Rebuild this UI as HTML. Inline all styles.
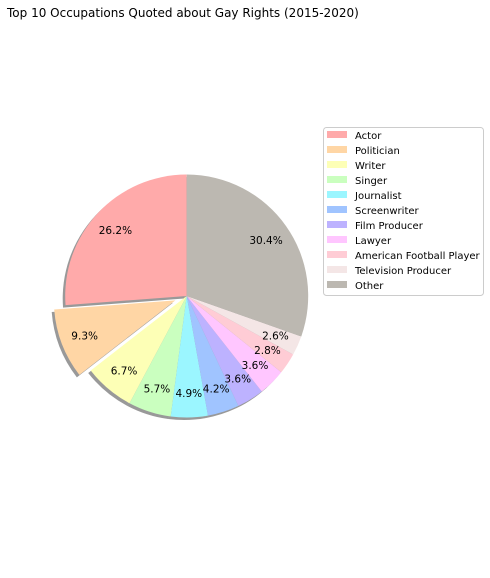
<!DOCTYPE html>
<html><head><meta charset="utf-8">
<style>
body{margin:0;background:#fff;width:490px;height:574px;overflow:hidden;font-family:"DejaVu Sans","Liberation Sans",sans-serif}
</style></head>
<body>
<svg id="chart" width="490" height="574" xmlns="http://www.w3.org/2000/svg">
<text x="7" y="17" font-size="12" fill="#000">Top 10 Occupations Quoted about Gay Rights (2015-2020)</text>
<g id="shadows"></g><g id="slices"></g><g id="labels"></g>
<g id="legend">
<rect x="323.5" y="127.5" width="160" height="168" rx="3" fill="#fff" stroke="#ccc"/>
</g>
</svg>
<script>
const categories=["Actor","Politician","Writer","Singer","Journalist","Screenwriter","Film Producer","Lawyer","American Football Player","Television Producer","Other"];
const values=[26.2,9.3,6.7,5.7,4.9,4.2,3.6,3.6,2.8,2.6,30.4];
const explode=[0,0.1,0,0,0,0,0,0,0,0,0];
const colors=["#ffaaaa","#ffd6a5","#fdffb6","#caffbf","#9bf6ff","#a0c4ff","#bdb2ff","#ffc6ff","#ffccd5","#f4e6e6","#bcb8b1"];
const NS="http://www.w3.org/2000/svg";
const cx=186.7,cy=296,r=121.5;
const total=values.reduce((a,b)=>a+b,0);
function pt(a,rad,ox,oy){return [ox+rad*Math.cos(a),oy-rad*Math.sin(a)];}
let ang=Math.PI/2;
const sh=document.getElementById('shadows'),sl=document.getElementById('slices'),lb=document.getElementById('labels');
values.forEach((v,i)=>{
  const sweep=v/total*2*Math.PI,a0=ang,a1=ang+sweep,mid=ang+sweep/2;ang=a1;
  const ox=cx+explode[i]*r*Math.cos(mid),oy=cy-explode[i]*r*Math.sin(mid);
  const p0=pt(a0,r,ox,oy),p1=pt(a1,r,ox,oy);
  const large=sweep>Math.PI?1:0;
  const d=`M${ox},${oy}L${p0[0]},${p0[1]}A${r},${r} 0 ${large} 0 ${p1[0]},${p1[1]}Z`;
  const s=document.createElementNS(NS,'path');
  s.setAttribute('d',d);s.setAttribute('fill','#000');s.setAttribute('fill-opacity','0.4');
  s.setAttribute('transform','translate(-2.5,2.5)');
  
  
  sh.appendChild(s);
  const p=document.createElementNS(NS,'path');
  p.setAttribute('d',d);p.setAttribute('fill',colors[i]);
  
  
  sl.appendChild(p);
  const lp=pt(mid,r*0.8,ox,oy);
  const t=document.createElementNS(NS,'text');
  t.setAttribute('x',lp[0]);t.setAttribute('y',lp[1]+4);t.setAttribute('font-size','10.5');t.setAttribute('text-anchor','middle');
  t.textContent=v.toFixed(1)+'%';
  
  
  lb.appendChild(t);
});
const lg=document.getElementById('legend');
categories.forEach((c,i)=>{
  const y=135+i*15;
  const r2=document.createElementNS(NS,'rect');
  r2.setAttribute('x',327);r2.setAttribute('y',y-4);r2.setAttribute('width',20);r2.setAttribute('height',7);r2.setAttribute('fill',colors[i]);
  
  
  lg.appendChild(r2);
  const t=document.createElementNS(NS,'text');
  t.setAttribute('x',355);t.setAttribute('y',y+4);t.setAttribute('font-size','10');t.textContent=c;
  
  
  lg.appendChild(t);
});
</script>
</body></html>
